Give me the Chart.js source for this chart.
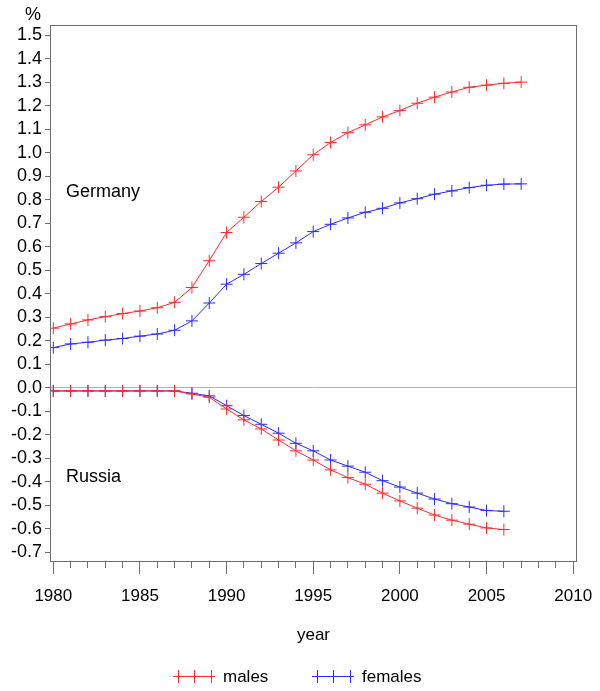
<!DOCTYPE html>
<html>
<head>
<meta charset="utf-8">
<script src="https://cdn.jsdelivr.net/npm/chart.js@4/dist/chart.umd.min.js"></script>
<style>
html,body{margin:0;padding:0;background:#fff;}
canvas{display:block;}
</style>
</head>
<body>
<canvas id="c" width="600" height="691"></canvas>
<script>
const yearsGermany = [1980,1981,1982,1983,1984,1985,1986,1987,1988,1989,1990,1991,1992,1993,1994,1995,1996,1997,1998,1999,2000,2001,2002,2003,2004,2005,2006,2007];
const yearsRussia  = [1980,1981,1982,1983,1984,1985,1986,1987,1988,1989,1990,1991,1992,1993,1994,1995,1996,1997,1998,1999,2000,2001,2002,2003,2004,2005,2006];
const germanyMales   = [0.253,0.271,0.288,0.302,0.315,0.326,0.340,0.363,0.426,0.540,0.660,0.725,0.792,0.853,0.922,0.991,1.043,1.085,1.118,1.152,1.179,1.210,1.236,1.258,1.278,1.287,1.295,1.300];
const germanyFemales = [0.170,0.186,0.193,0.202,0.209,0.219,0.228,0.244,0.284,0.360,0.440,0.482,0.528,0.572,0.616,0.664,0.695,0.722,0.746,0.763,0.786,0.804,0.823,0.837,0.851,0.861,0.866,0.867];
const russiaMales    = [-0.014,-0.014,-0.014,-0.014,-0.014,-0.014,-0.014,-0.014,-0.027,-0.041,-0.091,-0.137,-0.176,-0.223,-0.269,-0.308,-0.350,-0.383,-0.411,-0.449,-0.482,-0.513,-0.542,-0.564,-0.581,-0.597,-0.604];
const russiaFemales  = [-0.014,-0.014,-0.014,-0.014,-0.014,-0.014,-0.014,-0.014,-0.024,-0.035,-0.077,-0.119,-0.156,-0.194,-0.237,-0.269,-0.308,-0.334,-0.360,-0.396,-0.423,-0.449,-0.474,-0.494,-0.508,-0.523,-0.526];
const seriesLabels = ['males','females'];
const regionLabels = ['Germany','Russia'];

const RED = '#ff2a2a', BLUE = '#2a2aff';
const FONT = "'Liberation Sans', Arial, sans-serif";

function pts(xs, ys){ return xs.map((x,i)=>({x:x, y:ys[i]})); }
function ds(label, xs, ys, color){
  return {label:label, data:pts(xs,ys), borderColor:color, backgroundColor:color,
    borderWidth:1, pointStyle:'cross', pointRadius:6, pointBorderWidth:1,
    pointHoverRadius:6, pointHoverBorderColor:color, pointHoverBorderWidth:1,
    tension:0, fill:false, xAxisID:'x', yAxisID:'y'};
}
function noPad(s){ s.paddingLeft = 0; s.paddingRight = 0; s.paddingTop = 0; s.paddingBottom = 0; }

const overlay = {
  id:'overlay',
  afterDraw(chart){
    const ctx = chart.ctx, a = chart.chartArea;
    ctx.save();
    ctx.strokeStyle = '#6e6e6e'; ctx.lineWidth = 1;
    ctx.strokeRect(Math.round(a.left)+0.5, Math.round(a.top)+0.5, Math.round(a.right-a.left)-1, Math.round(a.bottom-a.top)-1);
    ctx.fillStyle = '#000';
    ctx.font = '18px ' + FONT;
    ctx.textBaseline = 'middle'; ctx.textAlign = 'left';
    ctx.fillText(regionLabels[0], a.left + 16, 192);
    ctx.fillText(regionLabels[1], a.left + 16, 477);
    ctx.textAlign = 'center';
    ctx.fillText('%', 33, 15);
    const items = [{label:seriesLabels[0], color:RED, x0:173, x1:215, tx:223},
                   {label:seriesLabels[1], color:BLUE, x0:312, x1:354, tx:362}];
    const ly = 676;
    ctx.font = '17px ' + FONT;
    items.forEach(it=>{
      ctx.strokeStyle = it.color; ctx.lineWidth = 1;
      ctx.beginPath(); ctx.moveTo(it.x0, ly+0.5); ctx.lineTo(it.x1, ly+0.5); ctx.stroke();
      [it.x0+5, it.x0+21, it.x1-4].forEach(cx=>{
        ctx.beginPath(); ctx.moveTo(Math.round(cx)+0.5, ly-6); ctx.lineTo(Math.round(cx)+0.5, ly+7); ctx.stroke();
      });
      ctx.fillStyle = '#000'; ctx.textAlign = 'left';
      ctx.fillText(it.label, it.tx, ly+1);
    });
    ctx.restore();
  }
};

new Chart(document.getElementById('c'), {
  type:'line',
  data:{ datasets:[
    ds(seriesLabels[0], yearsGermany, germanyMales, RED),
    ds(seriesLabels[1], yearsGermany, germanyFemales, BLUE),
    ds(seriesLabels[0], yearsRussia, russiaMales, RED),
    ds(seriesLabels[1], yearsRussia, russiaFemales, BLUE)
  ]},
  options:{
    responsive:false, animation:false, devicePixelRatio:1, events:[],
    layout:{padding:{top:25, right:23, left:0, bottom:45}},
    plugins:{legend:{display:false}, tooltip:{enabled:false}},
    scales:{
      xMinor:{
        type:'linear', position:'bottom', weight:0,
        min:1979.81, max:2010.22,
        afterFit(s){ s.height = 0; noPad(s); },
        afterBuildTicks(s){ const t=[]; for(let v=1980; v<=2010; v++) t.push({value:v}); s.ticks=t; },
        grid:{drawOnChartArea:false, tickLength:6, color:'#6e6e6e', tickColor:'#6e6e6e'},
        border:{display:false},
        ticks:{display:false, autoSkip:false}
      },
      x:{
        type:'linear', position:'bottom', weight:1,
        min:1979.81, max:2010.22,
        afterFit(s){ s.height = 84; noPad(s); },
        afterBuildTicks(s){ s.ticks = [1980,1985,1990,1995,2000,2005,2010].map(v=>({value:v})); },
        grid:{drawOnChartArea:false, tickLength:12, color:'#6e6e6e', tickColor:'#6e6e6e'},
        border:{display:false},
        ticks:{color:'#000', font:{family:FONT, size:17}, padding:12, maxRotation:0, autoSkip:false,
          callback:(v)=>String(Math.round(v))},
        title:{display:true, text:'year', color:'#000', font:{family:FONT, size:17}, padding:{top:0,bottom:0}}
      },
      y:{
        type:'linear', position:'left',
        min:-0.742, max:1.543,
        afterFit(s){ s.width = 50; noPad(s); },
        afterBuildTicks(s){ const t=[]; for(let i=-7;i<=15;i++) t.push({value:i/10}); s.ticks=t; },
        grid:{drawOnChartArea:true, tickLength:5,
          color:(c)=> (c.tick && Math.abs(c.tick.value)<1e-9) ? '#b4b4b4' : 'rgba(0,0,0,0)',
          tickColor:'#6e6e6e'},
        border:{display:false},
        ticks:{color:'#000', font:{family:FONT, size:18}, padding:3, autoSkip:false,
          callback:(v)=> Math.abs(v)<1e-9 ? '0.0' : v.toFixed(1)}
      }
    }
  },
  plugins:[overlay]
});
</script>
</body>
</html>
